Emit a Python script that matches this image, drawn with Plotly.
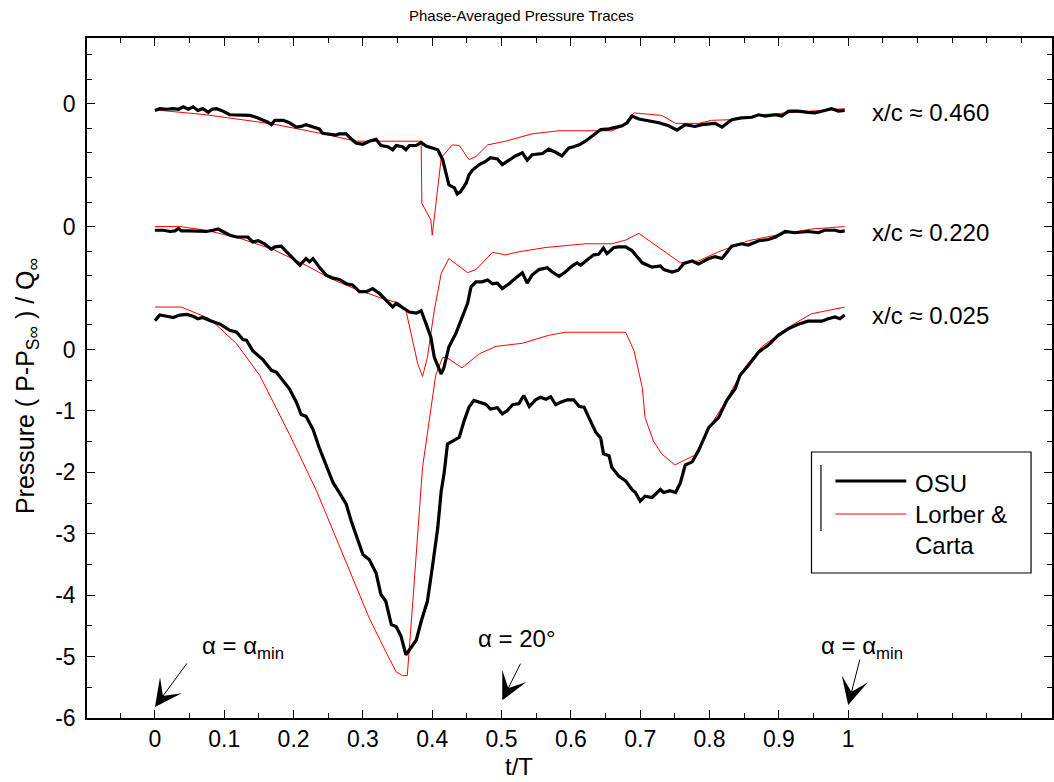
import plotly.graph_objects as go

# ---- OSU phase-averaged traces (t/T, Cp) ----
t_osu_460 = [0.000, 0.007, 0.017, 0.026, 0.034, 0.041, 0.048, 0.055, 0.062, 0.069, 0.077, 0.082, 0.089, 0.098,
             0.108, 0.122, 0.137, 0.146, 0.156, 0.163, 0.168, 0.173, 0.185, 0.194, 0.204, 0.211, 0.218, 0.228,
             0.237, 0.242, 0.252, 0.261, 0.266, 0.276, 0.283, 0.290, 0.300, 0.309, 0.319, 0.326, 0.336, 0.343,
             0.348, 0.357, 0.362, 0.367, 0.377, 0.384, 0.391, 0.400, 0.408, 0.415, 0.424, 0.432, 0.436, 0.441,
             0.449, 0.453, 0.458, 0.468, 0.477, 0.484, 0.494, 0.501, 0.511, 0.520, 0.530, 0.537, 0.544, 0.559,
             0.568, 0.578, 0.587, 0.597, 0.604, 0.612, 0.621, 0.631, 0.643, 0.655, 0.664, 0.674, 0.681, 0.688,
             0.698, 0.707, 0.727, 0.741, 0.753, 0.765, 0.779, 0.789, 0.808, 0.818, 0.832, 0.846, 0.861, 0.871,
             0.880, 0.895, 0.904, 0.914, 0.928, 0.942, 0.952, 0.966, 0.976, 0.986, 0.995]
p_osu_460 = [-0.11, -0.08, -0.09, -0.08, -0.09, -0.05, -0.09, -0.05, -0.11, -0.08, -0.14, -0.09, -0.08, -0.12,
             -0.18, -0.18, -0.19, -0.22, -0.26, -0.30, -0.34, -0.27, -0.27, -0.31, -0.38, -0.37, -0.34, -0.37,
             -0.41, -0.48, -0.50, -0.51, -0.49, -0.49, -0.57, -0.64, -0.66, -0.61, -0.58, -0.68, -0.70, -0.75,
             -0.68, -0.70, -0.75, -0.68, -0.68, -0.63, -0.69, -0.72, -0.75, -0.91, -1.32, -1.37, -1.47, -1.43,
             -1.29, -1.16, -1.08, -0.99, -0.94, -0.88, -0.90, -0.99, -0.92, -0.85, -0.80, -0.92, -0.83, -0.81,
             -0.74, -0.79, -0.85, -0.72, -0.70, -0.67, -0.61, -0.53, -0.42, -0.41, -0.38, -0.36, -0.31, -0.20,
             -0.25, -0.27, -0.31, -0.36, -0.43, -0.34, -0.37, -0.34, -0.32, -0.38, -0.26, -0.23, -0.22, -0.18,
             -0.20, -0.18, -0.20, -0.12, -0.12, -0.14, -0.15, -0.11, -0.08, -0.12, -0.11]

t_osu_220 = [0.000, 0.012, 0.022, 0.029, 0.034, 0.038, 0.050, 0.065, 0.074, 0.084, 0.091, 0.098, 0.108, 0.118,
             0.127, 0.134, 0.141, 0.149, 0.158, 0.168, 0.173, 0.182, 0.190, 0.199, 0.209, 0.218, 0.223, 0.228,
             0.237, 0.247, 0.257, 0.266, 0.276, 0.285, 0.295, 0.305, 0.314, 0.324, 0.333, 0.343, 0.348, 0.357,
             0.367, 0.377, 0.384, 0.391, 0.398, 0.403, 0.408, 0.413, 0.417, 0.424, 0.434, 0.444, 0.451, 0.456,
             0.463, 0.472, 0.480, 0.487, 0.494, 0.501, 0.511, 0.520, 0.530, 0.537, 0.544, 0.554, 0.566, 0.573,
             0.583, 0.592, 0.602, 0.609, 0.614, 0.626, 0.633, 0.640, 0.647, 0.652, 0.662, 0.669, 0.679, 0.688,
             0.695, 0.703, 0.717, 0.729, 0.734, 0.746, 0.755, 0.763, 0.775, 0.784, 0.799, 0.808, 0.818, 0.832,
             0.846, 0.856, 0.871, 0.885, 0.895, 0.909, 0.923, 0.942, 0.957, 0.966, 0.981, 0.988, 0.995]
p_osu_220 = [-0.06, -0.06, -0.08, -0.07, -0.03, -0.07, -0.07, -0.07, -0.08, -0.06, -0.04, -0.08, -0.14, -0.17,
             -0.17, -0.17, -0.25, -0.23, -0.28, -0.37, -0.33, -0.32, -0.41, -0.52, -0.63, -0.52, -0.57, -0.52,
             -0.66, -0.79, -0.84, -0.86, -0.93, -0.95, -1.06, -1.06, -1.01, -1.09, -1.20, -1.31, -1.25, -1.32,
             -1.39, -1.41, -1.37, -1.58, -1.80, -2.13, -2.26, -2.40, -2.29, -1.96, -1.74, -1.47, -1.25, -0.98,
             -0.90, -0.90, -0.87, -0.93, -0.92, -1.01, -0.93, -0.84, -0.75, -0.92, -0.79, -0.70, -0.67, -0.74,
             -0.81, -0.74, -0.64, -0.59, -0.63, -0.52, -0.46, -0.45, -0.35, -0.44, -0.34, -0.33, -0.33, -0.39,
             -0.49, -0.59, -0.66, -0.64, -0.70, -0.74, -0.71, -0.60, -0.56, -0.61, -0.52, -0.49, -0.52, -0.32,
             -0.28, -0.30, -0.23, -0.21, -0.17, -0.08, -0.10, -0.08, -0.10, -0.06, -0.06, -0.08, -0.07]

t_osu_025 = [0.000, 0.007, 0.017, 0.026, 0.036, 0.046, 0.055, 0.062, 0.069, 0.079, 0.094, 0.108, 0.118, 0.127,
             0.132, 0.141, 0.156, 0.168, 0.175, 0.185, 0.194, 0.204, 0.211, 0.218, 0.228, 0.237, 0.247, 0.257,
             0.266, 0.276, 0.283, 0.290, 0.300, 0.309, 0.319, 0.326, 0.333, 0.341, 0.348, 0.355, 0.362, 0.369,
             0.377, 0.384, 0.393, 0.400, 0.408, 0.413, 0.417, 0.422, 0.429, 0.439, 0.446, 0.453, 0.460, 0.468,
             0.477, 0.484, 0.494, 0.501, 0.508, 0.516, 0.525, 0.532, 0.540, 0.549, 0.556, 0.564, 0.571, 0.578,
             0.585, 0.595, 0.604, 0.612, 0.619, 0.626, 0.636, 0.643, 0.647, 0.655, 0.659, 0.669, 0.679, 0.688,
             0.693, 0.700, 0.707, 0.717, 0.729, 0.734, 0.743, 0.751, 0.758, 0.765, 0.775, 0.784, 0.799, 0.813,
             0.825, 0.837, 0.844, 0.856, 0.871, 0.885, 0.899, 0.914, 0.928, 0.942, 0.962, 0.971, 0.981, 0.988,
             0.995]
p_osu_025 = [0.47, 0.56, 0.54, 0.52, 0.56, 0.57, 0.54, 0.50, 0.52, 0.47, 0.41, 0.31, 0.28, 0.16,
             0.15, -0.02, -0.17, -0.34, -0.37, -0.51, -0.64, -0.86, -1.06, -1.09, -1.30, -1.60, -1.90, -2.17,
             -2.33, -2.52, -2.79, -3.01, -3.34, -3.42, -3.64, -3.99, -4.10, -4.48, -4.51, -4.67, -4.97, -4.86,
             -4.73, -4.43, -4.10, -3.56, -2.90, -2.30, -2.03, -1.54, -1.49, -1.43, -1.16, -0.94, -0.83, -0.86,
             -0.89, -0.97, -0.95, -1.05, -1.00, -0.90, -0.88, -0.75, -0.93, -0.82, -0.78, -0.81, -0.77, -0.90,
             -0.86, -0.82, -0.82, -0.93, -0.94, -1.11, -1.35, -1.44, -1.70, -1.73, -1.92, -2.06, -2.14, -2.28,
             -2.33, -2.47, -2.39, -2.41, -2.28, -2.33, -2.30, -2.33, -2.17, -1.88, -1.83, -1.65, -1.27, -1.11,
             -0.83, -0.64, -0.42, -0.26, -0.04, 0.07, 0.23, 0.34, 0.41, 0.46, 0.46, 0.50, 0.53, 0.50,
             0.56]

# ---- Lorber & Carta traces (t/T, Cp) ----
t_lc_460 = [0.000, 0.074, 0.170, 0.247, 0.290, 0.377, 0.384, 0.385, 0.398, 0.400, 0.413, 0.429, 0.439, 0.453,
            0.463, 0.480, 0.506, 0.544, 0.583, 0.659, 0.674, 0.691, 0.731, 0.751, 0.784, 0.803, 0.832, 0.875,
            0.923, 0.995]
p_lc_460 = [-0.10, -0.18, -0.33, -0.50, -0.61, -0.61, -0.61, -1.62, -1.89, -2.14, -0.88, -0.67, -0.68, -0.91,
            -0.86, -0.67, -0.61, -0.49, -0.44, -0.44, -0.37, -0.15, -0.19, -0.32, -0.32, -0.27, -0.26, -0.18,
            -0.14, -0.08]

t_lc_220 = [0.000, 0.036, 0.074, 0.122, 0.170, 0.218, 0.252, 0.290, 0.328, 0.353, 0.362, 0.372, 0.379, 0.386,
            0.393, 0.403, 0.413, 0.424, 0.451, 0.463, 0.487, 0.506, 0.525, 0.564, 0.621, 0.659, 0.679, 0.698,
            0.758, 0.784, 0.813, 0.856, 0.909, 0.947, 0.995]
p_lc_220 = [0.00, 0.00, -0.06, -0.19, -0.37, -0.63, -0.84, -1.02, -1.17, -1.25, -1.36, -1.85, -2.23, -2.44,
            -2.13, -1.36, -0.76, -0.52, -0.75, -0.70, -0.42, -0.46, -0.41, -0.34, -0.28, -0.28, -0.22, -0.11,
            -0.59, -0.56, -0.41, -0.23, -0.11, -0.04, 0.00]

t_lc_025 = [0.000, 0.038, 0.079, 0.118, 0.151, 0.194, 0.233, 0.276, 0.309, 0.333, 0.348, 0.357, 0.364, 0.372,
            0.386, 0.405, 0.415, 0.422, 0.443, 0.468, 0.492, 0.530, 0.568, 0.592, 0.679, 0.691, 0.703, 0.707,
            0.719, 0.731, 0.750, 0.779, 0.803, 0.818, 0.851, 0.875, 0.918, 0.947, 0.995]
p_lc_025 = [0.69, 0.69, 0.50, 0.09, -0.42, -1.38, -2.30, -3.46, -4.37, -4.92, -5.25, -5.31, -5.31, -4.10,
            -1.92, -0.42, -0.13, -0.14, -0.30, -0.07, 0.05, 0.10, 0.23, 0.28, 0.28, -0.02, -0.62, -1.11,
            -1.49, -1.70, -1.88, -1.72, -1.21, -0.94, -0.29, 0.04, 0.39, 0.58, 0.69]

# vertical shift of each station so the traces stack
stations = ["x/c \u2248 0.460", "x/c \u2248 0.220", "x/c \u2248 0.025"]
offsets = [4, 2, 0]
label_levels = [-0.15, -0.10, 0.55]

osu = [(t_osu_460, p_osu_460), (t_osu_220, p_osu_220), (t_osu_025, p_osu_025)]
lc = [(t_lc_460, p_lc_460), (t_lc_220, p_lc_220), (t_lc_025, p_lc_025)]

x_major = [0, 0.1, 0.2, 0.3, 0.4, 0.5, 0.6, 0.7, 0.8, 0.9, 1]
x_labels = ["0", "0.1", "0.2", "0.3", "0.4", "0.5", "0.6", "0.7", "0.8", "0.9", "1"]
x_minor = [-0.05, 0.05, 0.15, 0.25, 0.35, 0.45, 0.55, 0.65, 0.75, 0.85, 0.95, 1.05, 1.1, 1.15, 1.2, 1.25]
y_major = [-6, -5, -4, -3, -2, -1, 0, 2, 4]
y_labels = ["-6", "-5", "-4", "-3", "-2", "-1", "0", "0", "0"]
y_minor = [-5.5, -4.5, -3.5, -2.5, -1.5, -0.5, 0.4, 0.8, 1.2, 1.6, 2.4, 2.8, 3.2, 3.6, 4.4, 4.8]

FONT = "Arial, Liberation Sans, sans-serif"
TXT = 24
TICK = 23

W, H, L, T = 1054, 782, 87, 38
B = 718
PW, PH = W - L, B - T


def px(x):
    return (x - L) / PW


def py(y):
    return (B - y) / PH


fig = go.Figure()
for (tl, pl), off in zip(lc, offsets):
    fig.add_trace(go.Scatter(x=tl, y=[v + off for v in pl], mode="lines",
                             line=dict(color="#ff0000", width=1), showlegend=False))
for (to, po), off in zip(osu, offsets):
    fig.add_trace(go.Scatter(x=to, y=[v + off for v in po], mode="lines",
                             line=dict(color="black", width=3.2), showlegend=False))

annotations = []
for name, off, lev in zip(stations, offsets, label_levels):
    annotations.append(dict(x=1.031, y=off + lev, xref="x", yref="y", text=name, showarrow=False,
                            xanchor="left", yanchor="middle", font=dict(size=TXT, color="black", family=FONT)))

# phase markers with arrows
markers = [
    (0.0, -5.82, 33, -45, "\u03b1 = \u03b1<sub>min</sub>", 0.127, -4.86),
    (0.501, -5.71, 19, -38, "\u03b1 = 20\u00b0", 0.522, -4.70),
    (1.0, -5.79, 12, -47, "\u03b1 = \u03b1<sub>min</sub>", 1.02, -4.86),
]
for xt, yt, ax, ay, txt, xl, yl in markers:
    annotations.append(dict(x=xt, y=yt, xref="x", yref="y", text="", showarrow=True, ax=ax, ay=ay,
                            arrowhead=3, arrowsize=4.5, arrowwidth=1, arrowcolor="black", standoff=0))
    annotations.append(dict(x=xl, y=yl, xref="x", yref="y", text=txt, showarrow=False,
                            xanchor="center", yanchor="middle", font=dict(size=TXT, color="black", family=FONT)))

# title and axis labels
annotations.append(dict(x=px(522), y=py(16), xref="paper", yref="paper", text="Phase-Averaged Pressure Traces",
                        showarrow=False, xanchor="center", yanchor="middle",
                        font=dict(size=15, color="black", family=FONT)))
annotations.append(dict(x=px(27), y=py(386), xref="paper", yref="paper",
                        text="Pressure ( P-P<sub>S\u221e</sub> ) / Q<sub>\u221e</sub>",
                        textangle=-90, showarrow=False, xanchor="center", yanchor="middle",
                        font=dict(size=25, color="black", family=FONT)))
annotations.append(dict(x=px(520), y=py(766), xref="paper", yref="paper", text="t/T", showarrow=False,
                        xanchor="center", yanchor="middle", font=dict(size=TXT, color="black", family=FONT)))

# legend box
shapes = [
    dict(type="rect", xref="paper", yref="paper", x0=px(813), x1=px(1033), y0=py(573), y1=py(452),
         line=dict(color="black", width=1.2), fillcolor="white", layer="above"),
    dict(type="line", xref="paper", yref="paper", x0=px(822.5), x1=px(822.5), y0=py(531), y1=py(465),
         line=dict(color="black", width=1.2), layer="above"),
    dict(type="line", xref="paper", yref="paper", x0=px(837), x1=px(908), y0=py(481), y1=py(481),
         line=dict(color="black", width=3.2), layer="above"),
    dict(type="line", xref="paper", yref="paper", x0=px(837), x1=px(908), y0=py(514), y1=py(514),
         line=dict(color="#ff0000", width=1), layer="above"),
]
annotations.append(dict(x=px(915), y=py(483), xref="paper", yref="paper", text="OSU", showarrow=False,
                        xanchor="left", yanchor="middle", font=dict(size=TXT, color="black", family=FONT)))
annotations.append(dict(x=px(915), y=py(530), xref="paper", yref="paper", text="Lorber &amp;<br>Carta",
                        showarrow=False, xanchor="left", yanchor="middle", align="left",
                        font=dict(size=TXT, color="black", family=FONT)))

fig.update_layout(
    width=W, height=H,
    margin=dict(l=L, r=0, t=T, b=H - B),
    paper_bgcolor="white", plot_bgcolor="white",
    showlegend=False,
    annotations=annotations,
    shapes=shapes,
    font=dict(family=FONT, color="black", size=TXT),
)
fig.update_xaxes(range=[-0.098, 1.294], tickmode="array", tickvals=x_major, ticktext=x_labels,
                 ticks="inside", ticklen=8, tickwidth=1, tickcolor="black",
                 showline=True, linecolor="black", linewidth=1.5, mirror="allticks",
                 showgrid=False, zeroline=False, ticklabelstandoff=0,
                 tickfont=dict(size=TICK, family=FONT, color="black"),
                 minor=dict(tickmode="array", tickvals=x_minor, ticks="inside", ticklen=5,
                            tickcolor="black", showgrid=False))
fig.update_yaxes(range=[-6, 5.07], tickmode="array", tickvals=y_major, ticktext=y_labels,
                 ticks="inside", ticklen=8, tickwidth=1, tickcolor="black",
                 showline=True, linecolor="black", linewidth=1.5, mirror="allticks",
                 showgrid=False, zeroline=False, ticklabelstandoff=5,
                 tickfont=dict(size=TICK, family=FONT, color="black"),
                 minor=dict(tickmode="array", tickvals=y_minor, ticks="inside", ticklen=5,
                            tickcolor="black", showgrid=False))

fig.write_html("out.html")
